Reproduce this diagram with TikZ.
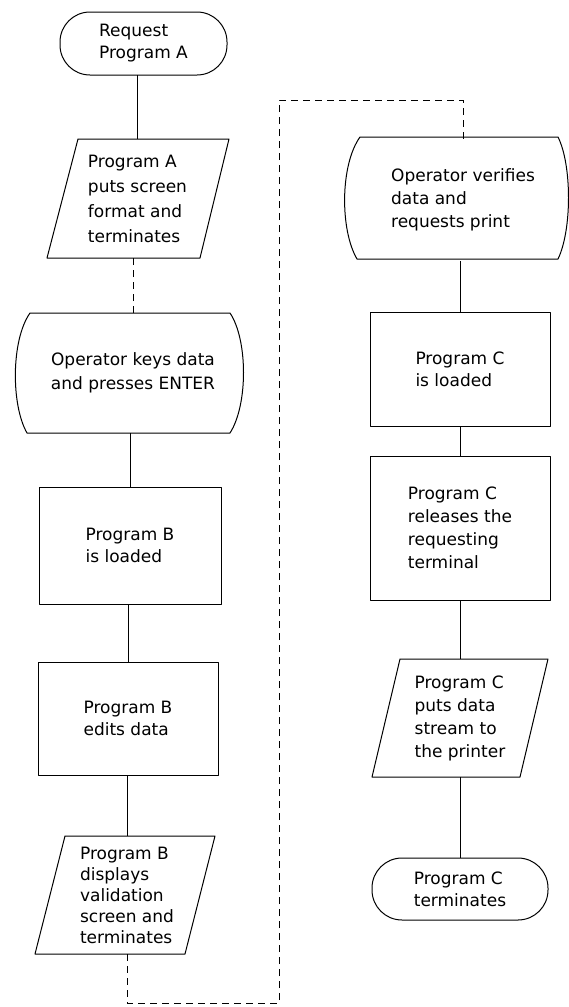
\documentclass[tikz,border=0pt]{standalone}
\usepackage{fontspec}
\setmainfont{DejaVu Sans}
\begin{document}
\begin{tikzpicture}[x=1pt,y=-1pt,
  shapeline/.style={line width=1.0pt, line join=round},
  txt/.style={font=\fontsize{17}{22}\selectfont, align=left, inner sep=0pt, outer sep=0pt},
  procbox/.style 2 args={txt, draw, shapeline, minimum width=#1, minimum height=#2},
  termbox/.style 2 args={txt, draw, shapeline, rounded corners=30pt, minimum width=#1, minimum height=#2},
  ghost/.style={txt, minimum height=#1},
  link/.style={line width=0.7pt},
  dlink/.style={line width=0.7pt, dash pattern=on 7pt off 5pt}
]
\useasboundingbox (0,0) rectangle (569,1007);

% ---------------- left column ----------------
\node[termbox={167pt}{63pt}] (termA) at (143.5,43.5) {Request\\Program A};

\node[ghost=119pt, font=\fontsize{17}{25}\selectfont] (paraA) at (137.5,198.5)
  {Program A\\puts screen\\format and\\terminates};
\draw[shapeline] (78,139) -- (229,139) -- (200,258) -- (47,258) -- cycle;

\node[ghost=120pt, align=center, font=\fontsize{17}{24}\selectfont] (onlineL) at (133,373)
  {Operator keys data\\and presses ENTER};
\draw[shapeline] (30,313) -- (230,313)
  .. controls (248,340) and (248,405) .. (230,433)
  -- (27,433)
  .. controls (11,405) and (11,340) .. (30,313) -- cycle;

\node[procbox={182pt}{117pt}] (boxB1) at (130,545.5) {Program B\\is loaded};
\node[procbox={180pt}{113pt}] (boxB2) at (128,718.5) {Program B\\edits data};

\node[ghost=118pt, font=\fontsize{17}{21}\selectfont] (paraB) at (127,895)
  {Program B\\displays\\validation\\screen and\\terminates};
\draw[shapeline] (65,836) -- (215,836) -- (185,954) -- (35,954) -- cycle;

% ---------------- right column ----------------
\node[ghost=122pt, font=\fontsize{17}{23}\selectfont] (onlineR) at (463,200)
  {Operator verifies\\data and\\requests print};
\draw[shapeline] (360,137) -- (558,137)
  .. controls (572,165) and (572,230) .. (558,259)
  -- (357,259)
  .. controls (340,230) and (340,165) .. (360,137) -- cycle;

\node[procbox={180pt}{114pt}] (boxC1) at (460,369) {Program C\\is loaded};
\node[procbox={180pt}{144pt}, font=\fontsize{17}{23}\selectfont] (boxC2) at (460,528)
  {Program C\\releases the\\requesting\\terminal};

\node[ghost=118pt, font=\fontsize{17}{23}\selectfont] (paraC) at (460,718)
  {Program C\\puts data\\stream to\\the printer};
\draw[shapeline] (400,659) -- (548,659) -- (520,777) -- (372,777) -- cycle;

\node[termbox={176pt}{62pt}] (termC) at (460,889) {Program C\\terminates};

% ---------------- connectors ----------------
\draw[link] (paraA.north) -- (paraA.north |- termA.south);
\draw[dlink] (onlineL.north) -- (onlineL.north |- paraA.south);
\draw[link] (boxB1.north) -- (boxB1.north |- onlineL.south);
\draw[link] (boxB2.north) -- (boxB2.north |- boxB1.south);
\draw[link] (paraB.north) -- (paraB.north |- boxB2.south);

\coordinate (loopbase) at (127,1003);
\coordinate (looptop) at (279,100);
\draw[dlink] (paraB.south) -- (paraB.south |- loopbase) -| (looptop) -| (onlineR.north);

\draw[link] (boxC1.north) -- (boxC1.north |- onlineR.south);
\draw[link] (boxC2.north) -- (boxC2.north |- boxC1.south);
\draw[link] (paraC.north) -- (paraC.north |- boxC2.south);
\draw[link] (termC.north) -- (termC.north |- paraC.south);
\end{tikzpicture}
\end{document}
